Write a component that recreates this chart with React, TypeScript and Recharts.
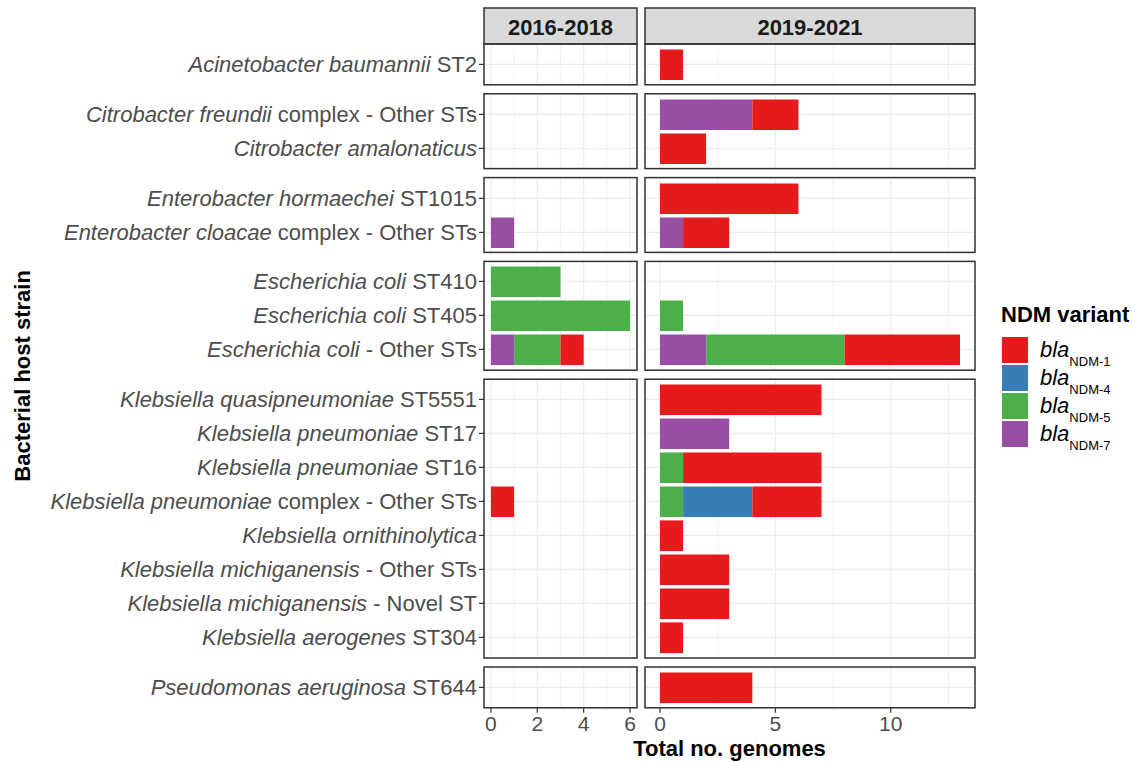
import React from 'react';
import { BarChart, Bar, XAxis, YAxis, CartesianGrid } from 'recharts';

// ---------- DATA ----------
const strainItalic = [
  'Acinetobacter baumannii',
  'Citrobacter freundii',
  'Citrobacter amalonaticus',
  'Enterobacter hormaechei',
  'Enterobacter cloacae',
  'Escherichia coli',
  'Escherichia coli',
  'Escherichia coli',
  'Klebsiella quasipneumoniae',
  'Klebsiella pneumoniae',
  'Klebsiella pneumoniae',
  'Klebsiella pneumoniae',
  'Klebsiella ornithinolytica',
  'Klebsiella michiganensis',
  'Klebsiella michiganensis',
  'Klebsiella aerogenes',
  'Pseudomonas aeruginosa',
];
const strainSuffix = [
  'ST2',
  'complex - Other STs',
  '',
  'ST1015',
  'complex - Other STs',
  'ST410',
  'ST405',
  '- Other STs',
  'ST5551',
  'ST17',
  'ST16',
  'complex - Other STs',
  '',
  '- Other STs',
  '- Novel ST',
  'ST304',
  'ST644',
];
const strainGenus = [
  'Acinetobacter',
  'Citrobacter', 'Citrobacter',
  'Enterobacter', 'Enterobacter',
  'Escherichia', 'Escherichia', 'Escherichia',
  'Klebsiella', 'Klebsiella', 'Klebsiella', 'Klebsiella', 'Klebsiella', 'Klebsiella', 'Klebsiella', 'Klebsiella',
  'Pseudomonas',
];
const genera = ['Acinetobacter', 'Citrobacter', 'Enterobacter', 'Escherichia', 'Klebsiella', 'Pseudomonas'];
const periods = ['2016-2018', '2019-2021'];

const variants = ['NDM-1', 'NDM-4', 'NDM-5', 'NDM-7'];
const variantColors = ['#E41A1C', '#377EB8', '#4DAF4A', '#984EA3'];
const stackOrder = ['NDM-7', 'NDM-5', 'NDM-4', 'NDM-1'];

// 2016-2018
const ndm1_2016 = [0, 0, 0, 0, 0, 0, 0, 1, 0, 0, 0, 1, 0, 0, 0, 0, 0];
const ndm4_2016 = [0, 0, 0, 0, 0, 0, 0, 0, 0, 0, 0, 0, 0, 0, 0, 0, 0];
const ndm5_2016 = [0, 0, 0, 0, 0, 3, 6, 2, 0, 0, 0, 0, 0, 0, 0, 0, 0];
const ndm7_2016 = [0, 0, 0, 0, 1, 0, 0, 1, 0, 0, 0, 0, 0, 0, 0, 0, 0];
// 2019-2021
const ndm1_2019 = [1, 2, 2, 6, 2, 0, 0, 5, 7, 0, 6, 3, 1, 3, 3, 1, 4];
const ndm4_2019 = [0, 0, 0, 0, 0, 0, 0, 0, 0, 0, 0, 3, 0, 0, 0, 0, 0];
const ndm5_2019 = [0, 0, 0, 0, 0, 0, 1, 6, 0, 0, 1, 1, 0, 0, 0, 0, 0];
const ndm7_2019 = [0, 4, 0, 0, 1, 0, 0, 2, 0, 3, 0, 0, 0, 0, 0, 0, 0];

const periodValues = [
  { 'NDM-1': ndm1_2016, 'NDM-4': ndm4_2016, 'NDM-5': ndm5_2016, 'NDM-7': ndm7_2016 },
  { 'NDM-1': ndm1_2019, 'NDM-4': ndm4_2019, 'NDM-5': ndm5_2019, 'NDM-7': ndm7_2019 },
];

const xMax = [6, 13];
const xMajorTicks = [[0, 2, 4, 6], [0, 5, 10]];
const xMinorTicks = [[1, 3, 5], [2.5, 7.5, 12.5]];

// ---------- LAYOUT ----------
const UNIT = 34;
const GAP = 9;
const STRIP_TOP = 8;
const PANEL_TOP = 44;
const AXIS_H = 34;
const COLS = [
  { left: 484, right: 637 },
  { left: 645, right: 975 },
];
const FONT = '"Liberation Sans", Arial, Helvetica, sans-serif';

const strainLabels = strainItalic.map((s, i) => (strainSuffix[i] ? `${s} ${strainSuffix[i]}` : s));

const StrainTick = (props: any) => {
  const { x, y, payload } = props;
  const idx = strainLabels.indexOf(payload.value);
  return (
    <text x={x} y={y} dy="0.355em" textAnchor="end" fontSize={22} fill="#4D4D4D" style={{ whiteSpace: 'pre' }}>
      <tspan fontStyle="italic">{strainItalic[idx]}</tspan>
      {strainSuffix[idx] ? <tspan>{' ' + strainSuffix[idx]}</tspan> : null}
    </text>
  );
};

const EmptyTick = () => <g />;

type PanelProps = { genus: string; period: number; top: number; height: number; bottom: boolean };

const Panel = ({ genus, period, top, height, bottom }: PanelProps) => {
  const idxs = strainGenus.map((g, i) => (g === genus ? i : -1)).filter((i) => i >= 0);
  const vals = periodValues[period] as any;
  const data = idxs.map((i) => {
    const row: any = { name: strainLabels[i] };
    variants.forEach((v) => {
      row[v] = vals[v][i];
    });
    return row;
  });
  const col = COLS[period];
  const isLeft = period === 0;
  const chartLeft = isLeft ? 0 : col.left;
  const chartWidth = col.right - chartLeft;
  const chartHeight = height + (bottom ? AXIS_H : 1);
  const domain = [-0.05 * xMax[period], 1.05 * xMax[period]];
  return (
    <div style={{ position: 'absolute', left: chartLeft, top, width: chartWidth, height: chartHeight }}>
      <BarChart
        width={chartWidth}
        height={chartHeight}
        data={data}
        layout="vertical"
        margin={{ top: 0, right: 0, bottom: 0, left: 0 }}
      >
        <CartesianGrid xAxisId="minor" horizontal={false} stroke="#EFEFEF" strokeWidth={0.8} />
        <CartesianGrid xAxisId={0} stroke="#EBEBEB" strokeWidth={1.2} />
        <XAxis
          xAxisId={0}
          type="number"
          domain={domain}
          allowDataOverflow
          ticks={xMajorTicks[period]}
          interval={0}
          height={bottom ? AXIS_H : 1}
          axisLine={false}
          tick={bottom ? { fill: '#4D4D4D', fontSize: 21 } : <EmptyTick />}
          tickLine={bottom ? { stroke: '#333333', strokeWidth: 1.2 } : false}
          tickSize={5}
          tickMargin={3}
        />
        <XAxis
          xAxisId="minor"
          type="number"
          domain={domain}
          allowDataOverflow
          ticks={xMinorTicks[period]}
          interval={0}
          height={0}
          axisLine={false}
          tick={<EmptyTick />}
          tickLine={false}
        />
        {isLeft ? (
          <YAxis
            type="category"
            dataKey="name"
            width={col.left}
            padding={{ top: UNIT * 0.1, bottom: UNIT * 0.1 }}
            interval={0}
            axisLine={false}
            tickLine={{ stroke: '#333333', strokeWidth: 1.2 }}
            tickSize={5}
            tickMargin={2}
            tick={<StrainTick />}
          />
        ) : (
          <YAxis
            type="category"
            dataKey="name"
            width={0}
            padding={{ top: UNIT * 0.1, bottom: UNIT * 0.1 }}
            interval={0}
            axisLine={false}
            tickLine={false}
            tick={<EmptyTick />}
          />
        )}
        {stackOrder.map((v) => (
          <Bar
            key={v}
            dataKey={v}
            stackId="s"
            xAxisId={0}
            fill={variantColors[variants.indexOf(v)]}
            barSize={UNIT * 0.9}
            isAnimationActive={false}
          />
        ))}
      </BarChart>
    </div>
  );
};

export default function App() {
  const panels: { genus: string; top: number; height: number }[] = [];
  let y = PANEL_TOP;
  genera.forEach((g) => {
    const n = strainGenus.filter((s) => s === g).length;
    const h = (n + 0.2) * UNIT;
    panels.push({ genus: g, top: y, height: h });
    y += h + GAP;
  });
  const panelBottom = panels[panels.length - 1].top + panels[panels.length - 1].height;

  return (
    <div style={{ position: 'absolute', left: 0, top: 0, width: 1137, height: 762, background: '#fff', fontFamily: FONT, overflow: 'hidden' }}>
      {panels.map((p, gi) =>
        periods.map((_, pi) => (
          <Panel key={`${p.genus}-${pi}`} genus={p.genus} period={pi} top={p.top} height={p.height} bottom={gi === panels.length - 1} />
        ))
      )}
      <svg width={1137} height={762} style={{ position: 'absolute', left: 0, top: 0, pointerEvents: 'none' }} fontFamily={FONT}>
        {/* strips */}
        {periods.map((label, pi) => (
          <g key={label}>
            <rect x={COLS[pi].left} y={STRIP_TOP} width={COLS[pi].right - COLS[pi].left} height={PANEL_TOP - STRIP_TOP} fill="#D9D9D9" stroke="#333333" strokeWidth={1.5} />
            <text x={(COLS[pi].left + COLS[pi].right) / 2} y={34.5} textAnchor="middle" fontSize={22} fontWeight="bold" fill="#1A1A1A">
              {label}
            </text>
          </g>
        ))}
        {/* panel borders */}
        {panels.map((p) =>
          COLS.map((c, ci) => (
            <rect key={`${p.genus}-b-${ci}`} x={c.left} y={p.top} width={c.right - c.left} height={p.height} fill="none" stroke="#333333" strokeWidth={1.5} />
          ))
        )}
        {/* axis titles */}
        <text x={(COLS[0].left + COLS[1].right) / 2} y={756} textAnchor="middle" fontSize={22} fontWeight="bold" fill="#000">
          Total no. genomes
        </text>
        <text x={30} y={(PANEL_TOP + panelBottom) / 2} textAnchor="middle" fontSize={22} fontWeight="bold" fill="#000" transform={`rotate(-90, 30, ${(PANEL_TOP + panelBottom) / 2})`}>
          Bacterial host strain
        </text>
        {/* legend */}
        <text x={1001} y={322} fontSize={22} fontWeight="bold" fill="#000">
          NDM variant
        </text>
        {variants.map((v, i) => (
          <g key={v}>
            <rect x={1002} y={337 + 28 * i} width={26} height={26} fill={variantColors[i]} />
            <text x={1040} y={337 + 28 * i + 20} fontSize={22} fill="#000" style={{ whiteSpace: 'pre' }}>
              <tspan fontStyle="italic">bla</tspan>
              <tspan fontSize={13} dy={9}>{v}</tspan>
            </text>
          </g>
        ))}
      </svg>
    </div>
  );
}
